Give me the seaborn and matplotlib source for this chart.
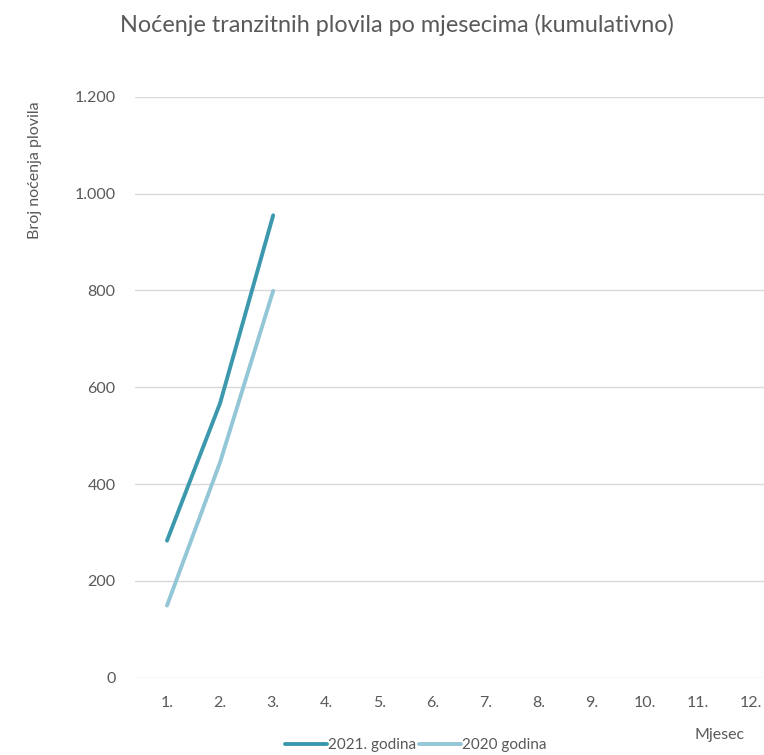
import matplotlib
matplotlib.use("Agg")
import matplotlib.pyplot as plt
import seaborn as sns
import pandas as pd
from matplotlib.ticker import FuncFormatter
from matplotlib.lines import Line2D

months = [1, 2, 3]
tick_labels = ["1.", "2.", "3.", "4.", "5.", "6.", "7.", "8.", "9.", "10.", "11.", "12."]
vals_2021 = [283, 567, 955]
vals_2020 = [149, 445, 799]
series_names = ["2021. godina", "2020 godina"]
colors = ["#3C98AD", "#93C6D7"]

df = pd.DataFrame({
    "Mjesec": months * 2,
    "Vrijednost": vals_2021 + vals_2020,
    "Serija": [series_names[0]] * 3 + [series_names[1]] * 3,
})

sns.set_theme(style="white")
plt.rcParams["font.family"] = ["Lato", "DejaVu Sans"]

W, H = 764, 755
fig = plt.figure(figsize=(W / 100, H / 100), dpi=100)
left, right, top, bottom = 135, 764, 96.7, 677.7
ax = fig.add_axes([left / W, 1 - bottom / H, (right - left) / W, (bottom - top) / H])

sns.lineplot(data=df, x="Mjesec", y="Vrijednost", hue="Serija",
             palette=dict(zip(series_names, colors)), linewidth=2.8,
             ax=ax, legend=False, solid_capstyle="round")

ax.set_xlim(1 - 32 / 53.1, 12 + 13 / 53.1)
ax.set_ylim(0, 1200)
ax.set_xticks(range(1, 13))
ax.set_xticklabels(tick_labels)
ax.set_yticks(range(0, 1201, 200))
ax.yaxis.set_major_formatter(FuncFormatter(lambda v, p: f"{int(v):,}".replace(",", ".")))
ax.grid(axis="y", color="#D9D9D9", linewidth=1)
ax.set_axisbelow(True)
for s in ax.spines.values():
    s.set_visible(False)
ax.tick_params(axis="both", length=0, labelsize=11.5, colors="#595959")
ax.tick_params(axis="x", pad=13)
ax.tick_params(axis="y", pad=14)
ax.set_xlabel("")
ax.set_ylabel("")

fig.text(397 / W, 1 - 25 / H, "Noćenje tranzitnih plovila po mjesecima (kumulativno)",
         ha="center", va="center", fontsize=16.8, color="#595959")
fig.text(35 / W, 1 - 170 / H, "Broj noćenja plovila", rotation=90,
         ha="center", va="center", fontsize=11.5, color="#595959")
fig.text(720 / W, 1 - 735 / H, "Mjesec", ha="center", va="center",
         fontsize=11.5, color="#595959")

handles = [Line2D([0], [0], color=c, lw=2.8) for c in colors]
fig.legend(handles, series_names, loc="center", bbox_to_anchor=(416 / W, 1 - 745 / H),
           ncol=2, frameon=False, fontsize=11, labelcolor="#595959",
           handlelength=2.7, handletextpad=0.1, columnspacing=0.2)

fig.savefig("out.png", dpi=100)
